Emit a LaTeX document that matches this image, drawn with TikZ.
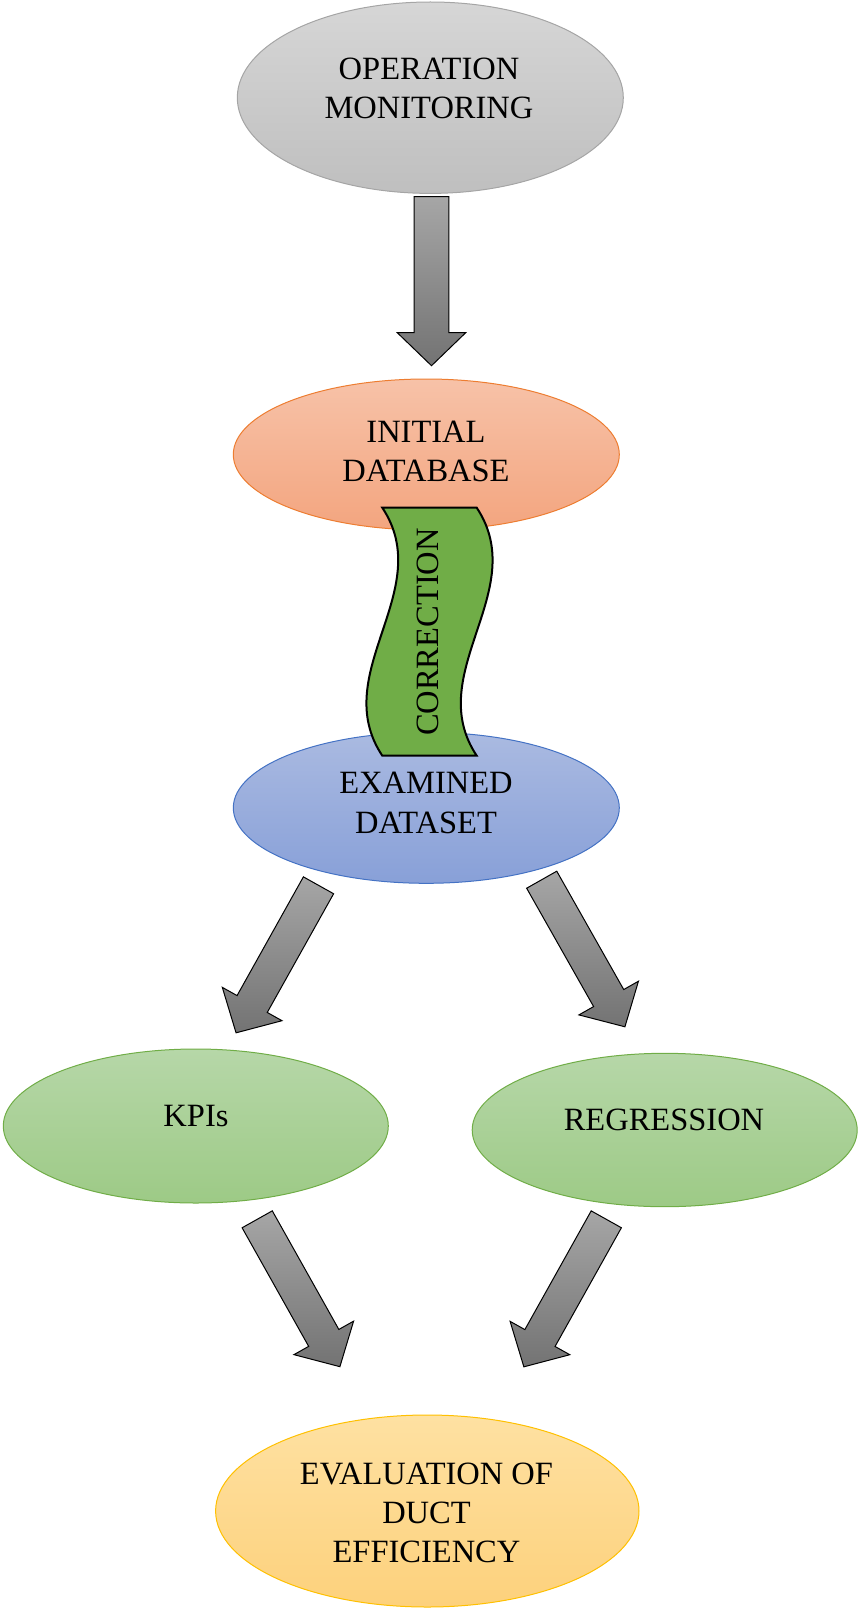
\documentclass[tikz,border=0pt]{standalone}
\usepackage{fontspec}
\setmainfont{Liberation Serif}
\usetikzlibrary{shapes.geometric}
\definecolor{omtop}{HTML}{D6D6D6}
\definecolor{ombot}{HTML}{BFBFBF}
\definecolor{omline}{HTML}{A5A5A5}
\definecolor{idtop}{HTML}{F7C2A8}
\definecolor{idbot}{HTML}{F3A57F}
\definecolor{idline}{HTML}{ED7D31}
\definecolor{edtop}{HTML}{AABAE1}
\definecolor{edbot}{HTML}{88A0D8}
\definecolor{edline}{HTML}{4472C4}
\definecolor{grtop}{HTML}{B6D7A8}
\definecolor{grbot}{HTML}{9DCA86}
\definecolor{grline}{HTML}{70AD47}
\definecolor{evtop}{HTML}{FEE1A2}
\definecolor{evbot}{HTML}{FDD17C}
\definecolor{evline}{HTML}{FFC000}
\definecolor{arrtop}{HTML}{A6A6A6}
\definecolor{arrbot}{HTML}{737373}
\definecolor{wavegreen}{HTML}{70AD47}
\tikzset{
  ell/.style={ellipse, inner sep=0pt, outer sep=0pt, line width=1pt},
  lbl/.style={align=center, inner sep=0pt, outer sep=0pt, text=black,
    font=\fontsize{32.5}{39.3}\selectfont},
  barrow/.pic={
    \path[draw=black, line width=1pt, line join=miter, top color=arrtop, bottom color=arrbot]
      (-17.3,0) -- (17.3,0) -- (17.3,136) -- (34.2,136) -- (0,169)
      -- (-34.2,136) -- (-17.3,136) -- cycle;
  }
}
\begin{document}
\begin{tikzpicture}[x=1pt, y=-1pt]
\useasboundingbox (0,0) rectangle (858,1608);

% ellipses
\node[ell, draw=omline, top color=omtop, bottom color=ombot,
  minimum width=386pt, minimum height=191.4pt] (om) at (430.3,97.7) {};
\node[ell, draw=idline, top color=idtop, bottom color=idbot,
  minimum width=386pt, minimum height=151pt] (id) at (426.3,454.5) {};
\node[ell, draw=edline, top color=edtop, bottom color=edbot,
  minimum width=386pt, minimum height=151pt] (ed) at (426.3,807.8) {};
\node[ell, draw=grline, top color=grtop, bottom color=grbot,
  minimum width=385pt, minimum height=154pt] (kp) at (195.8,1126) {};
\node[ell, draw=grline, top color=grtop, bottom color=grbot,
  minimum width=385pt, minimum height=153.4pt] (rg) at (664.7,1130) {};
\node[ell, draw=evline, top color=evtop, bottom color=evbot,
  minimum width=423.4pt, minimum height=192pt] (ev) at (427.3,1511) {};

% labels
\node[lbl] (omt) at (429,88.3) {OPERATION\\MONITORING};
\node[lbl] (idt) at (426,451.7) {INITIAL\\DATABASE};
\node[lbl] (edt) at (426,803) {EXAMINED\\DATASET};
\node[lbl] (kpt) at (196,1116) {KPIs};
\node[lbl] (rgt) at (664,1119.5) {REGRESSION};
\node[lbl] (evt) at (426.5,1513) {EVALUATION OF\\DUCT\\EFFICIENCY};

% correction wave banner
\draw[fill=wavegreen, line width=2pt, line join=miter]
  (382.3,507.7) .. controls (437.3,590.4) and (327.3,673) .. (382.3,755.7)
  -- (476.7,755.7) .. controls (421.7,673) and (531.7,590.4) .. (476.7,507.7)
  -- cycle;
\node[lbl, rotate=90] (cor) at (428.3,632) {CORRECTION};

% block arrows
\coordinate (a0) at (431.5,196.7);
\coordinate (a1) at (318.5,885.3);
\coordinate (a2) at (541.7,879.7);
\coordinate (a3) at (257.2,1219.3);
\coordinate (a4) at (606.3,1219.3);
\pic at (a0) {barrow};
\pic[rotate=-29.2] at (a1) {barrow};
\pic[rotate=29.5] at (a2) {barrow};
\pic[rotate=29.3] at (a3) {barrow};
\pic[rotate=-29.2] at (a4) {barrow};
\end{tikzpicture}
\end{document}
